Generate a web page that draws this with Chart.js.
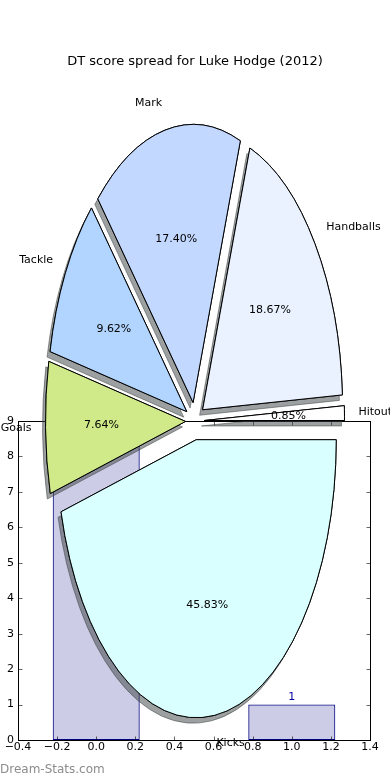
<!DOCTYPE html>
<html>
<head>
<meta charset="utf-8">
<script src="https://cdn.jsdelivr.net/npm/chart.js@4.4.1/dist/chart.umd.min.js"></script>
<style>
  html, body { margin: 0; padding: 0; background: #fff; }
  #wrap { position: relative; width: 390px; height: 780px; }
  #wrap canvas { position: absolute; left: 0; top: 0; }
  #credit { position: absolute; left: 0; top: 762px; font: 12px "DejaVu Sans", sans-serif; color: #8c8c8c; }
</style>
</head>
<body>
<div id="wrap">
  <canvas id="barChart" width="390" height="780"></canvas>
  <canvas id="pieChart" width="390" height="780"></canvas>
  <div id="credit">Dream-Stats.com</div>
</div>
<script>
// pie: share of DT score per stat (percent)
const statNames = ["Hitout", "Handballs", "Mark", "Tackle", "Goals", "Kicks"];
const statShares = [0.85, 18.67, 17.40, 9.62, 7.64, 45.83];
const sliceColors = ["#ffffff", "#eaf1ff", "#c3d8ff", "#b2d5ff", "#d0ea8a", "#d9ffff"];

// bars sitting behind the pie
const barPositions = [0, 1];
const barCounts = [9, 1];
const xRange = [-0.4, 1.4];
const yRange = [0, 9];

const chartTitle = "DT score spread for Luke Hodge (2012)";

Chart.defaults.font.family = '"DejaVu Sans", sans-serif';
Chart.defaults.font.size = 11;
Chart.defaults.color = "#000";

const SQUASH = 1.986;  // pie is about twice as tall as wide
const EXPLODE = 9.5;   // explode distance, chart space px

function fmtTick(v) {
    if (Math.abs(v) < 1e-9) return "0.0";
    return v.toFixed(1).replace("-", "\u2212");
}

// frame, inward ticks and value labels for the bar axes
const axesFrame = {
    id: "axesFrame",
    afterDatasetsDraw(chart) {
        const { ctx, chartArea: a, scales: { x, y } } = chart;
        const L = Math.round(a.left) + 0.5, R = Math.round(a.right) + 0.5;
        const T = Math.round(a.top) + 0.5, B = Math.round(a.bottom) + 0.5;
        ctx.save();
        ctx.strokeStyle = "#000";
        ctx.lineWidth = 0.6;
        ctx.beginPath();
        x.ticks.forEach(t => {
            const px = Math.round(x.getPixelForValue(t.value)) + 0.5;
            ctx.moveTo(px, B); ctx.lineTo(px, B - 4);
            ctx.moveTo(px, T); ctx.lineTo(px, T + 4);
        });
        y.ticks.forEach(t => {
            const py = Math.round(y.getPixelForValue(t.value)) + 0.5;
            ctx.moveTo(L, py); ctx.lineTo(L + 4, py);
            ctx.moveTo(R, py); ctx.lineTo(R - 4, py);
        });
        ctx.stroke();
        ctx.lineWidth = 1;
        ctx.strokeRect(L, T, R - L, B - T);

        ctx.fillStyle = "#00009c";
        ctx.font = '11px "DejaVu Sans", sans-serif';
        ctx.textAlign = "center";
        ctx.textBaseline = "alphabetic";
        chart.getDatasetMeta(0).data.forEach((bar, i) => {
            ctx.fillText(String(barCounts[i]), bar.x, bar.y - 5);
        });
        ctx.restore();
    }
};

new Chart(document.getElementById("barChart"), {
    type: "bar",
    data: {
        datasets: [{
            data: barPositions.map((p, i) => ({ x: p, y: barCounts[i] })),
            backgroundColor: "rgba(0, 0, 128, 0.2)",
            borderColor: "navy",
            borderWidth: 1,
            borderSkipped: false,
            categoryPercentage: 1,
            barPercentage: 2.225   // relative to the 0.2 tick spacing
        }]
    },
    options: {
        responsive: false,
        animation: false,
        events: [],
        layout: { padding: { left: 6, right: 20, top: 421, bottom: 25 } },
        plugins: { legend: { display: false }, tooltip: { enabled: false } },
        scales: {
            x: {
                type: "linear",
                min: xRange[0], max: xRange[1],
                offset: false,
                grid: { display: false, drawTicks: false },
                border: { display: false },
                ticks: { stepSize: 0.2, padding: 1, maxRotation: 0, autoSkip: false, callback: v => fmtTick(v) },
                afterFit: s => { s.height = 15; }
            },
            y: {
                min: yRange[0], max: yRange[1],
                grid: { display: false, drawTicks: false },
                border: { display: false },
                ticks: { stepSize: 1, padding: 4 },
                afterFit: s => { s.width = 12; }
            }
        }
    },
    plugins: [axesFrame]
});

// draws the pie squashed into an ellipse, exploded, with drop shadows
const pieLook = {
    id: "pieLook",
    beforeDatasetsDraw(chart) {
        const ctx = chart.ctx;
        const ca = chart.chartArea;
        const cx = (ca.left + ca.right) / 2, cy = (ca.top + ca.bottom) / 2;
        const arcs = chart.getDatasetMeta(0).data;

        const shift = arc => {
            const mid = (arc.startAngle + arc.endAngle) / 2;
            ctx.translate(Math.cos(mid) * EXPLODE, Math.sin(mid) * EXPLODE);
        };

        ctx.save();
        ctx.translate(cx, cy);
        ctx.scale(1, -SQUASH);
        ctx.translate(-cx, -cy);

        // keep edge width even after squashing
        const plainStroke = ctx.stroke;
        ctx.stroke = function () {
            this.save();
            this.setTransform(1, 0, 0, 1, 0, 0);
            plainStroke.call(this);
            this.restore();
        };

        arcs.forEach(arc => {
            ctx.save();
            shift(arc);
            ctx.shadowColor = "rgba(60, 66, 66, 0.5)";
            ctx.shadowOffsetX = -3;
            ctx.shadowOffsetY = 5.5;
            ctx.shadowBlur = 0;
            arc.draw(ctx);
            ctx.restore();
        });
        arcs.forEach(arc => {
            ctx.save();
            shift(arc);
            arc.draw(ctx);
            ctx.restore();
        });

        delete ctx.stroke;
        ctx.restore();

        // labels
        const toScreen = (arc, r) => {
            const mid = (arc.startAngle + arc.endAngle) / 2;
            const ex = arc.x + Math.cos(mid) * EXPLODE;
            const ey = arc.y + Math.sin(mid) * EXPLODE;
            const px = ex + Math.cos(mid) * r;
            const py = ey + Math.sin(mid) * r;
            return { x: px, y: cy - SQUASH * (py - cy), right: Math.cos(mid) > 0 };
        };
        ctx.save();
        ctx.fillStyle = "#000";
        ctx.font = '11px "DejaVu Sans", sans-serif';
        ctx.textBaseline = "middle";
        arcs.forEach((arc, i) => {
            const p = toScreen(arc, arc.outerRadius * 0.6);
            ctx.textAlign = "center";
            ctx.fillText(statShares[i].toFixed(2) + "%", p.x, p.y);
            const q = toScreen(arc, arc.outerRadius * 1.1);
            ctx.textAlign = q.right ? "left" : "right";
            ctx.fillText(statNames[i], q.x, q.y);
        });
        ctx.restore();
        return false;
    }
};

new Chart(document.getElementById("pieChart"), {
    type: "pie",
    data: {
        labels: statNames,
        datasets: [{
            data: statShares,
            backgroundColor: sliceColors,
            borderColor: "#000",
            borderWidth: 1,
            borderJoinStyle: "miter"
        }]
    },
    options: {
        responsive: false,
        animation: false,
        events: [],
        rotation: 90,
        radius: 140,
        layout: { padding: { top: 0, bottom: 16.4, left: 0, right: 0 } },
        plugins: {
            legend: { display: false },
            tooltip: { enabled: false },
            title: {
                display: true,
                text: chartTitle,
                color: "#000",
                font: { size: 13, weight: "normal", lineHeight: 14.4 / 13 },
                padding: { top: 54, bottom: 10 }
            }
        }
    },
    plugins: [pieLook]
});
</script>
</body>
</html>
